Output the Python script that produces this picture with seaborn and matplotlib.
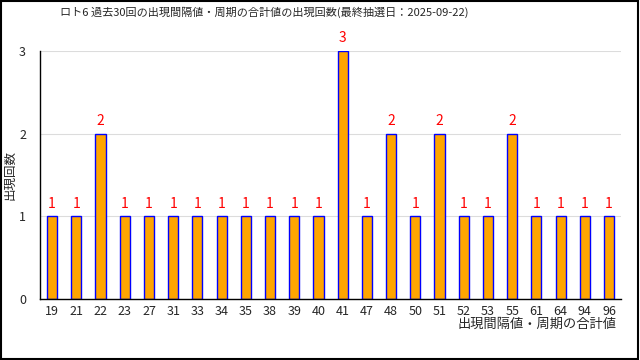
import numpy as np
import pandas as pd
import seaborn as sns
import matplotlib.pyplot as plt
from matplotlib.patches import Rectangle

# 出現間隔値・周期の合計値 と 出現回数
kanka = ['19', '21', '22', '23', '27', '31', '33', '34', '35', '38', '39', '40',
         '41', '47', '48', '50', '51', '52', '53', '55', '61', '64', '94', '96']
kaisu = [1, 1, 2, 1, 1, 1, 1, 1, 1, 1, 1, 1,
         3, 1, 2, 1, 2, 1, 1, 2, 1, 1, 1, 1]

sns.set_style('white')
plt.rcParams['font.family'] = ['Noto Sans CJK JP', 'DejaVu Sans']

df = pd.DataFrame({'kanka': kanka, 'kaisu': kaisu})

fig = plt.figure(figsize=(6.4, 3.6), dpi=100)
ax = fig.add_axes([0.0625, 0.169, 0.908, 0.689])

sns.barplot(data=df, x='kanka', y='kaisu', order=kanka, color='#FFA500',
            saturation=1, edgecolor='#0000FF', linewidth=1, width=0.42, ax=ax)

for i, v in enumerate(kaisu):
    ax.text(i, v + 0.07, str(v), color='red', ha='center', va='bottom',
            fontsize=10, clip_on=False)

ax.set_xlim(-0.5, len(kanka) - 0.5)
ax.set_ylim(0, 3)
ax.set_yticks([0, 1, 2, 3])
ax.yaxis.grid(True, color='#dcdcdc', linewidth=0.8)
ax.set_axisbelow(True)
ax.tick_params(axis='y', direction='in', length=3, labelsize=9, pad=10)
ax.tick_params(axis='x', which='major', length=0, labelsize=9, pad=4)
ax.set_xticks(np.arange(-0.5, len(kanka), 1), minor=True)
ax.tick_params(axis='x', which='minor', direction='in', length=4, width=1)

for s in ['top', 'right']:
    ax.spines[s].set_visible(False)
for s in ['left', 'bottom']:
    ax.spines[s].set_color('black')
    ax.spines[s].set_linewidth(1)

ax.set_xlabel('')
ax.set_ylabel('')
fig.text(0.964, 0.10, '出現間隔値・周期の合計値', ha='right', va='center', fontsize=9.5)
fig.text(0.016, 0.513, '出現回数', ha='center', va='center', rotation=90, fontsize=9)
fig.text(0.094, 0.967, 'ロト6 過去30回の出現間隔値・周期の合計値の出現回数(最終抽選日：2025-09-22)',
         ha='left', va='center', fontsize=8)

fig.patches.append(Rectangle((0.002, 0.003), 0.995, 0.994, transform=fig.transFigure,
                             fill=False, edgecolor='black', linewidth=1.5))

fig.savefig('out.png', dpi=100)
